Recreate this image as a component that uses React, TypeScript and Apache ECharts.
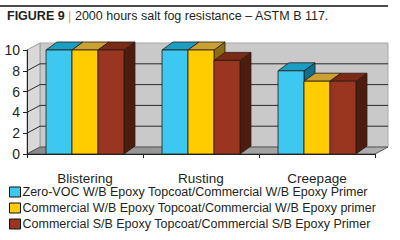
import React, { useEffect, useRef } from "react";
import * as echarts from "echarts";

const categories = ["Blistering", "Rusting", "Creepage"];
const seriesNames = [
  "Zero-VOC W/B Epoxy Topcoat/Commercial W/B Epoxy Primer",
  "Commercial W/B Epoxy Topcoat/Commercial W/B Epoxy primer",
  "Commercial S/B Epoxy Topcoat/Commercial S/B Epoxy Primer",
];
const zeroVoc = [10, 10, 8];
const commercialWB = [10, 10, 7];
const commercialSB = [10, 9, 7];
const yTicks = [0, 2, 4, 6, 8, 10];

const seriesValues = [zeroVoc, commercialWB, commercialSB];
const palette = [
  { front: "#3cc8f0", top: "#1a9ec4", side: "#0f6f8e" },
  { front: "#ffcc00", top: "#caa233", side: "#8c6d14" },
  { front: "#9a3520", top: "#7a2b18", side: "#4c1d0f" },
];

const FONT = "'Liberation Sans', Arial, sans-serif";

export default function App() {
  const ref = useRef<HTMLDivElement>(null);
  useEffect(() => {
    if (!ref.current) return;
    const chart = echarts.init(ref.current, null, { renderer: "svg" });

    const wallRender = (params: any, api: any) => {
      const cs = params.coordSys;
      const x = cs.x, y = cs.y, w = cs.width, h = cs.height;
      const dx = 13, dy = 7;
      const yb = y + h;
      const children: any[] = [
        {
          type: "rect",
          shape: { x: x + dx, y: y - dy, width: w, height: h },
          style: { fill: "#c9c9c9", stroke: "#a8a8a8", lineWidth: 1 },
        },
        {
          type: "polygon",
          shape: { points: [[x, yb], [x, y], [x + dx, y - dy], [x + dx, yb - dy]] },
          style: { fill: "#d9d9d9", stroke: "#9a9a9a", lineWidth: 1 },
        },
        {
          type: "polygon",
          shape: { points: [[x, yb], [x + w, yb], [x + w + dx, yb - dy], [x + dx, yb - dy]] },
          style: {
            fill: new echarts.graphic.LinearGradient(0, 0, 1, 0, [
              { offset: 0, color: "#8a8a8a" },
              { offset: 1, color: "#b0b0b0" },
            ]),
            stroke: "#555",
            lineWidth: 1,
          },
        },
      ];
      yTicks.slice(1, -1).forEach((v) => {
        const yy = api.coord([0, v])[1];
        children.push({
          type: "polyline",
          shape: { points: [[x, yy], [x + dx, yy - dy], [x + w + dx, yy - dy]] },
          style: { stroke: "#2a2a2a", lineWidth: 1, fill: null },
        });
      });
      return { type: "group", children };
    };

    const makeBarRender = (si: number) => (params: any, api: any) => {
      const c = palette[si];
      const cat = api.value(0);
      const val = api.value(1);
      const top = api.coord([cat, val]);
      const base = api.coord([cat, 0]);
      const band = api.size([1, 0])[0];
      const bw = band * 0.224;
      const x0 = top[0] + (si - 1.5) * bw;
      const x1 = x0 + bw;
      const yt = top[1];
      const yb = base[1];
      const dx = 11, dy = 8;
      const stroke = { stroke: "#2a1a10", lineWidth: 0.8 };
      return {
        type: "group",
        children: [
          {
            type: "polygon",
            shape: { points: [[x1, yt], [x1 + dx, yt - dy], [x1 + dx, yb - dy], [x1, yb]] },
            style: { fill: c.side, ...stroke },
          },
          {
            type: "polygon",
            shape: { points: [[x0, yt], [x0 + dx, yt - dy], [x1 + dx, yt - dy], [x1, yt]] },
            style: { fill: c.top, ...stroke },
          },
          {
            type: "rect",
            shape: { x: x0, y: yt, width: bw, height: yb - yt },
            style: { fill: c.front, ...stroke },
          },
        ],
      };
    };

    const option: any = {
      animation: false,
      backgroundColor: "#ffffff",
      textStyle: { fontFamily: FONT },
      title: {
        left: 7,
        top: 9,
        padding: 0,
        text: "{b|FIGURE 9} {s||} 2000 hours salt fog resistance – ASTM B 117.",
        textStyle: {
          fontFamily: FONT,
          fontSize: 12.5,
          fontWeight: "normal",
          color: "#231f20",
          rich: {
            b: { fontFamily: FONT, fontSize: 12.5, fontWeight: "bold", color: "#231f20" },
            s: { fontFamily: FONT, fontSize: 13, color: "#e3a020" },
          },
        },
      },
      graphic: [
        {
          type: "line",
          shape: { x1: 0, y1: 6, x2: 388, y2: 6 },
          style: { stroke: "#111", lineWidth: 1.5 },
        },
      ],
      legend: {
        orient: "vertical",
        left: 9,
        top: 185,
        padding: 0,
        itemWidth: 11,
        itemHeight: 10,
        itemGap: 2,
        icon: "rect",
        selectedMode: false,
        textStyle: {
          fontFamily: FONT,
          fontSize: 12.5,
          lineHeight: 14,
          color: "#231f20",
          padding: [0, 0, 0, -3],
        },
        data: seriesNames.map((n, i) => ({
          name: n,
          itemStyle: { color: palette[i].front, borderColor: "#111", borderWidth: 1 },
        })),
      },
      grid: { left: 27, right: 25, top: 50, bottom: 86, outerBoundsMode: "none" },
      xAxis: {
        type: "category",
        data: categories,
        axisLine: { show: true, lineStyle: { color: "#222", width: 1 } },
        axisTick: { show: true, length: 4, lineStyle: { color: "#222" } },
        axisLabel: { fontFamily: FONT, fontSize: 13.5, lineHeight: 14, color: "#231f20", margin: 17 },
        z: 5,
      },
      yAxis: {
        type: "value",
        min: 0,
        max: 10,
        interval: 2,
        axisLine: { show: true, lineStyle: { color: "#222", width: 1 } },
        axisTick: { show: true, length: 4, lineStyle: { color: "#222" } },
        axisLabel: { fontFamily: FONT, fontSize: 14, color: "#231f20", margin: 7 },
        splitLine: { show: false },
        z: 5,
      },
      series: [
        {
          type: "custom",
          name: "walls",
          renderItem: wallRender,
          data: [[0, 0]],
          encode: { x: 0, y: 1 },
          silent: true,
          z: 0,
        },
        ...seriesNames.map((n, si) => ({
          type: "custom",
          name: n,
          renderItem: makeBarRender(si),
          data: categories.map((_, i) => [i, seriesValues[si][i]]),
          encode: { x: 0, y: 1 },
          itemStyle: { color: palette[si].front, borderColor: "#111", borderWidth: 1 },
          z: 2 + si,
        })),
      ],
    };
    chart.setOption(option);
    return () => chart.dispose();
  }, []);
  return (
    <div
      ref={ref}
      style={{ position: "fixed", left: 0, top: 0, width: 400, height: 240 }}
    />
  );
}
